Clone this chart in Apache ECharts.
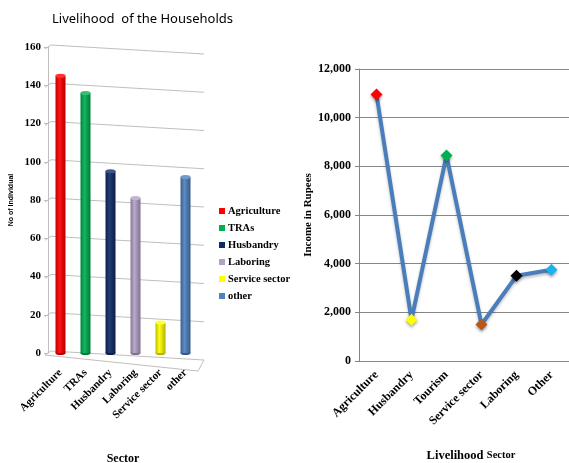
<!DOCTYPE html>
<html>
<head>
<meta charset="utf-8">
<script src="https://cdn.jsdelivr.net/npm/echarts@6/dist/echarts.min.js"></script>
<style>
  html, body { margin: 0; padding: 0; background: #fff; }
  #chart { width: 569px; height: 463px; }
</style>
</head>
<body>
<div id="chart"></div>
<script>
// Left panel: number of individuals per livelihood sector
const sectors = ['Agriculture', 'TRAs', 'Husbandry', 'Laboring', 'Service sector', 'other'];
const individuals = [145, 136, 95, 81, 16, 92];
const sectorColors = ['#ff0000', '#00b050', '#0f2a66', '#b3a2c7', '#ffff00', '#4f81bd'];
const countTicks = [0, 20, 40, 60, 80, 100, 120, 140, 160];

// Right panel: income per livelihood sector
const livelihoods = ['Agriculture', 'Husbandry', 'Tourism', 'Service sector', 'Laboring', 'Other'];
const income = [10950, 1700, 8450, 1500, 3500, 3750];
const markerColors = ['#ff0000', '#ffff00', '#00b050', '#b55a1e', '#000000', '#1ab2f0'];
const incomeTicks = [0, 2000, 4000, 6000, 8000, 10000, 12000];

const SERIF = '"Liberation Serif", "Times New Roman", serif';

function shade(hex, f) {
  const n = parseInt(hex.slice(1), 16);
  let r = (n >> 16) & 255, g = (n >> 8) & 255, b = n & 255;
  const mix = (c) => f < 0 ? Math.round(c * (1 + f)) : Math.round(c + (255 - c) * f);
  r = mix(r); g = mix(g); b = mix(b);
  return 'rgb(' + r + ',' + g + ',' + b + ')';
}

function cylinderFill(hex) {
  return new echarts.graphic.LinearGradient(0, 0, 1, 0, [
    { offset: 0, color: shade(hex, -0.25) },
    { offset: 0.4, color: shade(hex, 0.08) },
    { offset: 1, color: shade(hex, -0.3) }
  ]);
}

const chart = echarts.init(document.getElementById('chart'), null, { renderer: 'canvas' });

// cylinder bodies, one series per sector so each gets a legend entry
const barSeries = sectors.map((name, i) => ({
  name: name,
  type: 'bar',
  xAxisIndex: 0,
  yAxisIndex: 0,
  stack: 'cyl',
  barWidth: 10,
  z: 3,
  itemStyle: { color: cylinderFill(sectorColors[i]) },
  data: sectors.map((_, j) => (j === i ? individuals[i] : '-'))
}));

// receding back-wall gridlines and the floor
const wallSeries = {
  type: 'custom',
  xAxisIndex: 0,
  yAxisIndex: 0,
  z: 1,
  silent: true,
  encode: { x: 0, y: 1 },
  data: countTicks.map(v => [0, v]),
  renderItem: function (params, api) {
    const cs = params.coordSys;
    const y = api.coord([0, api.value(1)])[1];
    const x0 = cs.x, x1 = cs.x + cs.width + 6;
    const drop = 9;
    const children = [{
      type: 'polyline',
      shape: { points: [[x0 - 3, y + 2], [x0 + 3, y - 2], [x1, y - 2 + drop]] },
      style: { stroke: '#bfbfbf', lineWidth: 1, fill: null }
    }];
    if (api.value(1) === 0) {
      children.push({
        type: 'polyline',
        shape: { points: [[x0 - 3, y + 2], [x1 - 6, y + drop + 9], [x1, y - 2 + drop]] },
        style: { stroke: '#bfbfbf', lineWidth: 1, fill: null }
      });
    }
    return { type: 'group', children: children };
  }
};

const capTop = {
  type: 'pictorialBar',
  xAxisIndex: 0,
  yAxisIndex: 0,
  symbol: 'circle',
  symbolSize: [10, 4],
  symbolPosition: 'end',
  symbolOffset: [0, '-50%'],
  z: 5,
  silent: true,
  data: individuals.map((v, i) => ({ value: v, itemStyle: { color: shade(sectorColors[i], 0.2) } }))
};

const capBottom = {
  type: 'pictorialBar',
  xAxisIndex: 0,
  yAxisIndex: 0,
  symbol: 'circle',
  symbolSize: [10, 4],
  symbolPosition: 'start',
  symbolOffset: [0, '50%'],
  z: 2,
  silent: true,
  data: individuals.map((v, i) => ({ value: v, itemStyle: { color: shade(sectorColors[i], -0.3) } }))
};

const incomeLine = {
  type: 'line',
  xAxisIndex: 1,
  yAxisIndex: 1,
  symbol: 'diamond',
  symbolSize: 12,
  lineStyle: { color: '#4a7ebb', width: 4, shadowColor: 'rgba(0,0,0,0.25)', shadowBlur: 3, shadowOffsetY: 2 },
  itemStyle: { borderWidth: 0 },
  z: 3,
  data: income.map((v, i) => ({
    value: v,
    itemStyle: { color: markerColors[i], shadowColor: 'rgba(0,0,0,0.35)', shadowBlur: 3, shadowOffsetY: 2 }
  }))
};

const option = {
  backgroundColor: '#ffffff',
  animation: false,
  title: {
    text: 'Livelihood  of the Households',
    left: 47,
    top: 8,
    textStyle: { fontFamily: '"Noto Sans", sans-serif', fontSize: 13, fontWeight: 'normal', color: '#000' }
  },
  legend: {
    orient: 'vertical',
    left: 214,
    top: 200,
    icon: 'rect',
    itemWidth: 6,
    itemHeight: 6,
    itemGap: 5,
    textStyle: { fontFamily: SERIF, fontWeight: 'bold', fontSize: 10.5, color: '#000', padding: [0, 0, 0, -2], lineHeight: 12 },
    data: sectors.map((s, i) => ({ name: s, itemStyle: { color: sectorColors[i] } }))
  },
  grid: [
    { left: 48, top: 47, width: 150, bottom: 110, outerBoundsMode: 'none' },
    { left: 359, top: 69, right: 0, bottom: 102, outerBoundsMode: 'none' }
  ],
  xAxis: [
    {
      type: 'category',
      gridIndex: 0,
      data: sectors,
      axisLine: { show: false },
      axisTick: { show: false },
      axisLabel: { rotate: 45, margin: 18, interval: 0, fontFamily: SERIF, fontWeight: 'bold', fontSize: 11, color: '#000' },
      name: 'Sector',
      nameLocation: 'middle',
      nameGap: 100,
      nameTextStyle: { fontFamily: SERIF, fontWeight: 'bold', fontSize: 12, color: '#000' }
    },
    {
      type: 'category',
      gridIndex: 1,
      data: livelihoods,
      axisLine: { lineStyle: { color: '#868686' } },
      axisTick: { show: false },
      axisLabel: { rotate: 45, margin: 12, interval: 0, fontFamily: SERIF, fontWeight: 'bold', fontSize: 12, color: '#000' },
      name: '{a|Livelihood} {b|Sector}',
      nameLocation: 'middle',
      nameGap: 88,
      nameTextStyle: {
        padding: [0, 0, 0, 14],
        rich: {
          a: { fontFamily: SERIF, fontWeight: 'bold', fontSize: 12.5, color: '#000' },
          b: { fontFamily: SERIF, fontWeight: 'bold', fontSize: 10.5, color: '#000' }
        }
      }
    }
  ],
  yAxis: [
    {
      type: 'value',
      gridIndex: 0,
      min: countTicks[0],
      max: countTicks[countTicks.length - 1],
      interval: 20,
      axisLine: { show: true, lineStyle: { color: '#bfbfbf' } },
      axisTick: { show: true, length: 4, lineStyle: { color: '#bfbfbf' } },
      splitLine: { show: false },
      axisLabel: { margin: 7, fontFamily: SERIF, fontWeight: 'bold', fontSize: 11, color: '#000' },
      name: 'No of Individual',
      nameLocation: 'middle',
      nameGap: 33,
      nameTextStyle: { fontFamily: '"Liberation Sans", sans-serif', fontWeight: 'bold', fontSize: 7, color: '#000' }
    },
    {
      type: 'value',
      gridIndex: 1,
      min: incomeTicks[0],
      max: incomeTicks[incomeTicks.length - 1],
      interval: 2000,
      axisLine: { show: true, lineStyle: { color: '#868686' } },
      axisTick: { show: true, length: 4, lineStyle: { color: '#868686' } },
      splitLine: { show: true, lineStyle: { color: '#868686', width: 1 } },
      axisLabel: {
        margin: 8,
        fontFamily: SERIF, fontWeight: 'bold', fontSize: 12, color: '#000',
        formatter: v => v.toLocaleString('en-US')
      },
      name: 'Income in Rupees',
      nameLocation: 'middle',
      nameGap: 42,
      nameTextStyle: { fontFamily: SERIF, fontWeight: 'bold', fontSize: 11, color: '#000' }
    }
  ],
  series: [wallSeries, capBottom].concat(barSeries, [capTop, incomeLine])
};

chart.setOption(option);
</script>
</body>
</html>
